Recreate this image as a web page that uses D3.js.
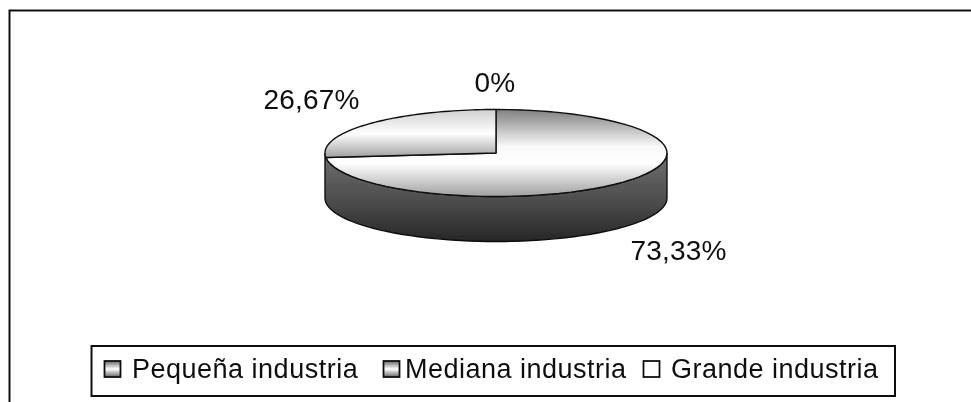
<!DOCTYPE html>
<html><head><meta charset="utf-8">
<script src="https://cdn.jsdelivr.net/npm/d3@7"></script>
<style>html,body{margin:0;padding:0;background:#fff;overflow:hidden}svg{display:block}text{font-family:"Liberation Sans",Arial,sans-serif;fill:#111}</style>
</head><body><svg id="c" width="971" height="402"></svg>
<script>
const categories=["Pequeña industria","Mediana industria","Grande industria"];
const values=[73.33,26.67,0];
const valueLabels=["73,33%","26,67%","0%"];
const svg=d3.select("#c");
const W=971,H=402,cx=496,cy=153,rx=171,ry=43.5,depth=45;
const defs=svg.append("defs");
defs.append("filter").attr("id","soft").attr("x","-5%").attr("y","-5%").attr("width","110%").attr("height","110%")
  .append("feGaussianBlur").attr("stdDeviation",0.55);
function grad(id,stops){const g=defs.append("linearGradient").attr("id",id).attr("x1",0).attr("y1",0).attr("x2",0).attr("y2",1);
  stops.forEach(s=>g.append("stop").attr("offset",s[0]).attr("stop-color",s[1]));}
grad("big",[[0,"#808080"],[0.42,"#f8f8f8"],[0.62,"#ffffff"],[1,"#a0a0a0"]]);
grad("small",[[0,"#d0d0d0"],[0.5,"#ffffff"],[1,"#a0a0a0"]]);
grad("side",[[0,"#6e6e6e"],[0.55,"#4c4c4c"],[1,"#262626"]]);
grad("lg1",[[0,"#666"],[0.5,"#fff"],[1,"#666"]]);
const root=svg.append("g").attr("filter","url(#soft)");
root.append("path").attr("d",`M9.5,${H}V10.5H${W}`).attr("fill","none").attr("stroke","#111").attr("stroke-width",2);

const sx=d3.scaleLinear().domain([-1,1]).range([cx-rx,cx+rx]);
const sy=d3.scaleLinear().domain([-1,1]).range([cy-ry,cy+ry]);
const pie=d3.pie().sort(null).value(d=>d)(values);
function arcPath(a0,a1,dz){const pts=d3.range(0,61).map(i=>{const a=a0+(a1-a0)*i/60;return [sx(Math.sin(a)),sy(-Math.cos(a))+dz];});return pts;}
const front=arcPath(Math.PI/2,Math.PI*1.5,0);
const back=arcPath(Math.PI*1.5,Math.PI/2,depth);
root.append("path").attr("d",d3.line()(front.concat(back))+"Z").attr("fill","url(#side)").attr("stroke","#111").attr("stroke-width",1.4);
pie.forEach((p,i)=>{ if(p.endAngle-p.startAngle<=0) return;
  const pts=[[sx(0),sy(0)]].concat(arcPath(p.startAngle,p.endAngle,0));
  root.append("path").attr("d",d3.line()(pts)+"Z").attr("fill",i===0?"url(#big)":"url(#small)").attr("stroke","#111").attr("stroke-width",1.4).attr("stroke-linejoin","round");
});
const labelPos=[[678.5,251],[311.5,100],[495,83]];
valueLabels.forEach((t,i)=>root.append("text").attr("x",labelPos[i][0]).attr("y",labelPos[i][1]+9).attr("text-anchor","middle").attr("font-size",28).attr("letter-spacing",0.2).text(t));
root.append("rect").attr("x",91.5).attr("y",346).attr("width",803.5).attr("height",50).attr("fill","#fff").attr("stroke","#111").attr("stroke-width",2);
const lx=[104.5,383.5,643.5], tx=[132,405,671];
categories.forEach((c,i)=>{
  root.append("rect").attr("x",lx[i]).attr("y",361).attr("width",16).attr("height",16).attr("fill",i<2?"url(#lg1)":"#fff").attr("stroke","#111").attr("stroke-width",1.8);
  root.append("text").attr("x",tx[i]).attr("y",378).attr("font-size",27).attr("letter-spacing",0.5).text(c);
});
</script></body></html>
